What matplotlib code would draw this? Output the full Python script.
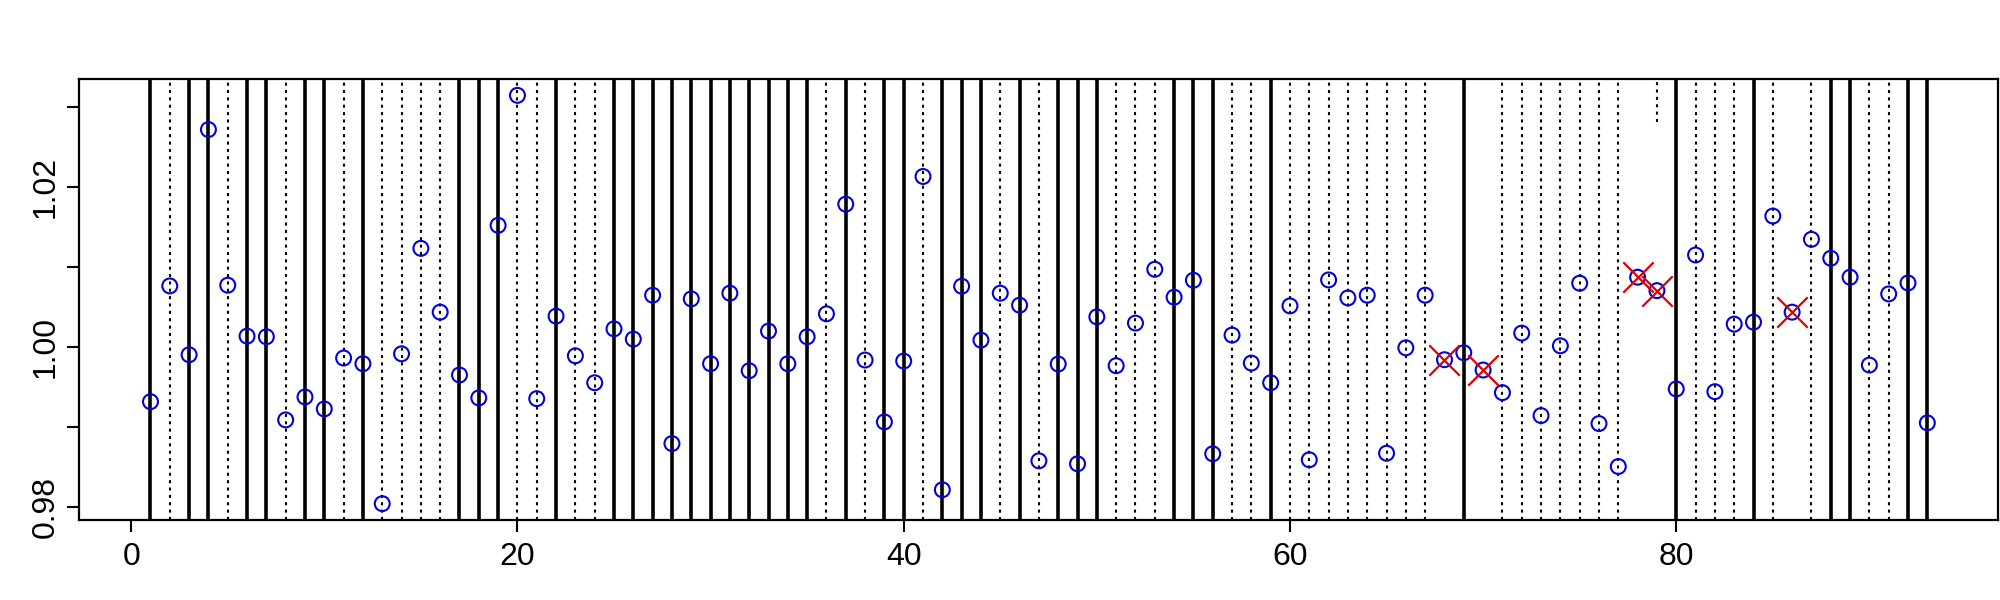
import matplotlib
matplotlib.use("Agg")
import matplotlib.pyplot as plt
import numpy as np

plt.rcParams["font.family"] = ["Liberation Sans", "DejaVu Sans"]
plt.rcParams["lines.scale_dashes"] = False

# values per index 1..93
values = [
    0.99317, 1.00765, 0.99904, 1.02721, 1.00774, 1.00137, 1.00129, 0.99089, 0.99376, 0.99226,
    0.99863, 0.99792, 0.98041, 0.99916, 1.01235, 1.00437, 0.99651, 0.99364, 1.01523, 1.03149,
    0.99355, 1.00387, 0.99891, 0.99554, 1.00228, 1.00100, 1.00649, 0.98793, 1.00603, 0.99792,
    1.00674, 0.99704, 1.00200, 0.99792, 1.00129, 1.00416, 1.01788, 0.99838, 0.99064, 0.99825,
    1.02134, 0.98215, 1.00761, 1.00087, 1.00674, 1.00524, 0.98577, 0.99788, 0.98540, 1.00378,
    0.99767, 1.00300, 1.00973, 1.00624, 1.00836, 0.98665, 1.00150, 0.99800, 0.99554, 1.00515,
    0.98590, 1.00840, 1.00615, 1.00649, 0.98672, 0.99991, 1.00649, 0.99842, 0.99929, 0.99713,
    0.99430, 1.00175, 0.99143, 1.00016, 1.00799, 0.99043, 0.98506, 1.00874, 1.00706, 0.99476,
    1.01152, 0.99442, 1.00287, 1.00312, 1.01639, 1.00437, 1.01348, 1.01111, 1.00874, 0.99775,
    1.00665, 1.00802, 0.99052,
]
idx = np.arange(1, len(values) + 1)

# line type for each index: s = solid, d = dotted, n = none, S = short dotted piece at top
line_types = (
    "sdssdssdss" "dsddddsssd" "dsddssssss" "sssssdsdss"
    "dsssdsdsss" "dddsssddsd" "dddddddnsn" "dddddddnSs"
    "dddsdndssd" "dss"
)
# where the short dotted piece starts
partial_from = 1.0282

flagged = [68, 70, 78, 79, 86]

fig = plt.figure(figsize=(20, 6), dpi=100)
ax = fig.add_axes([0.0397, 0.1333, 0.9595, 0.735])

yr = max(values) - min(values)
ylo, yhi = min(values) - 0.04 * yr, max(values) + 0.04 * yr
xr = idx[-1] - idx[0]
ax.set_xlim(idx[0] - 0.04 * xr, idx[-1] + 0.04 * xr)
ax.set_ylim(ylo, yhi)

dot = (2.2, 3.1)
for i, t in zip(idx, line_types):
    if t == "s":
        ax.axvline(i, color="black", lw=2.6, zorder=1)
    elif t == "d":
        ax.axvline(i, color="black", lw=1.5, dashes=dot, zorder=1)
    elif t == "S":
        ax.vlines(i, partial_from, yhi, color="black", lw=1.5, linestyles=[(0, dot)], zorder=1)

ax.scatter(idx, values, s=115, facecolors="none", edgecolors="#0000dd", linewidths=1.5, zorder=3)

fy = [values[i - 1] for i in flagged]
ax.scatter(flagged, fy, marker="x", s=480, color="#e00000", linewidths=1.6, zorder=4)

ax.set_xticks([0, 20, 40, 60, 80])
ax.set_yticks([0.98, 0.99, 1.00, 1.01, 1.02, 1.03])
ax.set_yticklabels(["0.98", "", "1.00", "", "1.02", ""], rotation=90, va="center")
ax.tick_params(axis="both", labelsize=23, length=8.5, width=1.5, direction="out")
ax.tick_params(axis="x", pad=7)
ax.tick_params(axis="y", pad=5)
for sp in ax.spines.values():
    sp.set_linewidth(1.6)

fig.savefig("out.png", dpi=100)
